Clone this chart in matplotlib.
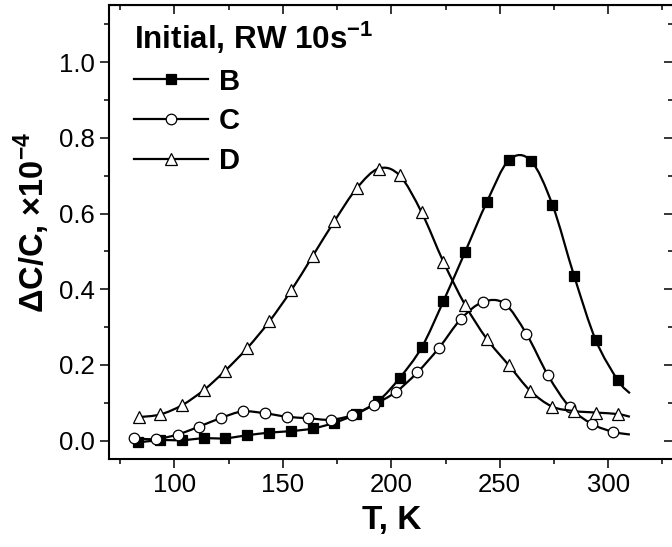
import numpy as np
import matplotlib
matplotlib.use('Agg')
import matplotlib.pyplot as plt
from matplotlib.lines import Line2D
from matplotlib.patches import PathPatch
from matplotlib.path import Path

plt.rcParams['font.family'] = ['Liberation Sans', 'DejaVu Sans']
plt.rcParams['mathtext.fontset'] = 'custom'
plt.rcParams['mathtext.rm'] = 'Liberation Sans'
plt.rcParams['mathtext.bf'] = 'Liberation Sans:bold'

# data (T in K, dC/C in 1e-4)
t_b = [83.4, 93.5, 103.5, 113.5, 123.4, 133.6, 143.8, 153.9, 163.9, 173.8, 183.8, 194.1,
       203.8, 214.0, 224.0, 234.0, 244.1, 254.2, 264.3, 274.3, 284.3, 294.3, 304.5]
dc_b = [-0.005, 0.001, 0.001, 0.006, 0.006, 0.014, 0.021, 0.025, 0.032, 0.047, 0.070, 0.105,
        0.165, 0.246, 0.368, 0.498, 0.631, 0.741, 0.740, 0.623, 0.435, 0.265, 0.159]

t_c = [81.5, 91.5, 101.5, 111.5, 121.6, 131.5, 141.9, 151.8, 161.8, 172.0, 181.8, 192.0,
       202.0, 212.0, 222.0, 232.2, 242.2, 252.2, 262.3, 272.3, 282.3, 292.5, 302.3]
dc_c = [0.006, 0.004, 0.016, 0.037, 0.060, 0.077, 0.072, 0.063, 0.059, 0.055, 0.067, 0.095,
        0.128, 0.180, 0.245, 0.322, 0.366, 0.362, 0.282, 0.172, 0.088, 0.044, 0.023]

t_d = [83.5, 93.5, 103.7, 113.7, 123.5, 133.7, 143.8, 153.9, 163.8, 173.8, 184.1, 194.2,
       203.8, 214.0, 224.0, 234.0, 244.0, 254.2, 264.0, 274.1, 284.3, 294.3, 304.5]
dc_d = [0.062, 0.069, 0.094, 0.134, 0.185, 0.245, 0.315, 0.397, 0.488, 0.580, 0.667, 0.719,
        0.701, 0.603, 0.473, 0.359, 0.269, 0.199, 0.132, 0.090, 0.078, 0.074, 0.070]

# the lines run on a bit past the last marker
t_end = 310.0
end_b, end_c, end_d = 0.125, 0.016, 0.063

labels = ['B', 'C', 'D']
legend_title = r'Initial, RW 10s$^{\mathbf{-1}}$'


def spline_path(xs, ys):
    # catmull-rom through the points, written as cubic bezier segments
    pts = np.column_stack([xs, ys])
    p = np.vstack([pts[0], pts, pts[-1]])
    verts = [pts[0]]
    codes = [Path.MOVETO]
    for i in range(1, len(p) - 2):
        c1 = p[i] + (p[i + 1] - p[i - 1]) / 6
        c2 = p[i + 1] - (p[i + 2] - p[i]) / 6
        verts += [c1, c2, p[i + 1]]
        codes += [Path.CURVE4] * 3
    return Path(verts, codes)


fig = plt.figure(figsize=(6.72, 5.47), dpi=100)
ax = fig.add_axes([0.1626, 0.16, 0.8393, 0.830])

series = [
    (t_b, dc_b, end_b, dict(marker='s', mfc='black', ms=7.2)),
    (t_c, dc_c, end_c, dict(marker='o', mfc='white', ms=7.6)),
    (t_d, dc_d, end_d, dict(marker='^', mfc='white', ms=8.2)),
]

handles = []
for z, (t, dc, end, mk) in enumerate(series):
    path = spline_path(t + [t_end], dc + [end])
    ax.add_patch(PathPatch(path, facecolor='none', edgecolor='black', lw=1.6,
                           zorder=2 + 2 * z))
    ax.plot(t, dc, ls='none', mec='black', mew=0.9, zorder=3 + 2 * z, **mk)
    handles.append(Line2D([], [], color='black', lw=1.6, mec='black', mew=0.9, **mk))

ax.set_xlim(70, 330)
ax.set_ylim(-0.05, 1.15)

ax.set_xticks([100, 150, 200, 250, 300])
ax.set_xticks([75, 125, 175, 225, 275, 325], minor=True)
ax.set_yticks([0.0, 0.2, 0.4, 0.6, 0.8, 1.0])
ax.set_yticks([0.1, 0.3, 0.5, 0.7, 0.9, 1.1], minor=True)
ax.yaxis.set_major_formatter(matplotlib.ticker.FormatStrFormatter('%.1f'))

ax.tick_params(which='both', direction='out', width=1.1, labelsize=18.5)
ax.tick_params(which='major', length=6.5)
ax.tick_params(which='minor', length=3.3)
ax.tick_params(axis='x', pad=3)
ax.tick_params(axis='y', pad=4)

# mirrored ticks pointing inward on top and right
top = ax.secondary_xaxis('top')
top.set_xticks([100, 150, 200, 250, 300])
top.set_xticks([75, 125, 175, 225, 275, 325], minor=True)
top.tick_params(which='both', direction='in', width=1.1, labeltop=False)
top.tick_params(which='major', length=6.5)
top.tick_params(which='minor', length=3.3)
right = ax.secondary_yaxis('right')
right.set_yticks([0.0, 0.2, 0.4, 0.6, 0.8, 1.0])
right.set_yticks([0.1, 0.3, 0.5, 0.7, 0.9, 1.1], minor=True)
right.tick_params(which='both', direction='in', width=1.1, labelright=False)
right.tick_params(which='major', length=6.5)
right.tick_params(which='minor', length=3.3)

for s in ax.spines.values():
    s.set_linewidth(1.5)

ax.set_xlabel('T, K', fontsize=24, fontweight='bold', labelpad=6)
ax.set_ylabel(r'ΔC/C, ×10$^{\mathbf{-4}}$', fontsize=23.5, fontweight='bold')
ax.yaxis.set_label_coords(-0.102, 0.522)

leg = ax.legend(handles, labels, title=legend_title, loc='upper left',
                bbox_to_anchor=(0.044, 0.969), frameon=False, alignment='left',
                borderpad=0, borderaxespad=0, handlelength=2.55, handletextpad=0.35,
                labelspacing=0.40, prop={'weight': 'bold', 'size': 21},
                title_fontproperties={'weight': 'bold', 'size': 22.6})

fig.savefig('out.png', dpi=100)
